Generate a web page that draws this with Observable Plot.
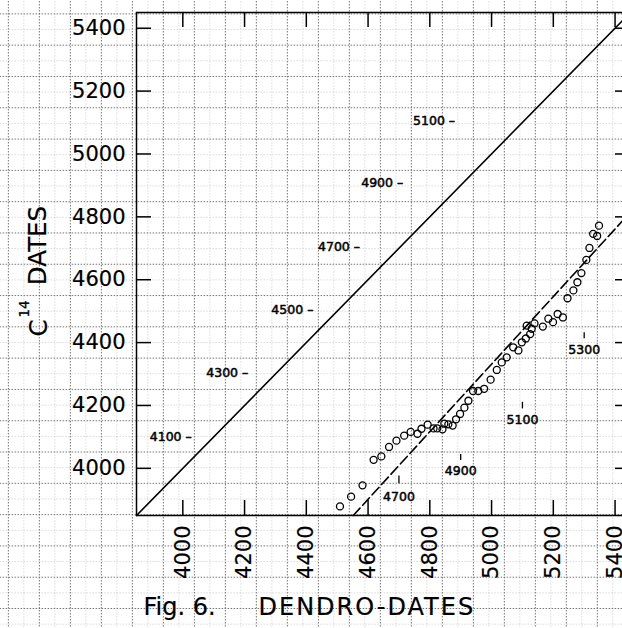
<!DOCTYPE html>
<html><head><meta charset="utf-8">
<script src="https://cdn.jsdelivr.net/npm/d3@7"></script>
<script src="https://cdn.jsdelivr.net/npm/@observablehq/plot@0.6"></script>
<style>html,body{margin:0;padding:0;background:#fff;overflow:hidden;width:622px;height:628px}</style>
</head><body><div id="chart"></div>
<script>
// Dendro-dates (x) and C14 dates (y) of the plotted samples
const dendroDates = [4509,4545,4582,4618,4643,4668,4692,4717,4738,4760,
  4773,4793,4812,4824,4841,4847,4860,4874,4885,4898,
  4912,4925,4940,4957,4976,4997,5017,5033,5049,5070,
  5087,5098,5111,5125,5114,5130,5139,5166,5184,5199,
  5214,5231,5246,5265,5278,5291,5307,5317,5329,5342,5348];
const c14Dates = [3879,3910,3946,4027,4038,4068,4088,4104,4116,4110,
  4126,4139,4127,4127,4124,4142,4140,4136,4156,4173,
  4193,4215,4246,4246,4253,4282,4313,4337,4353,4385,
  4375,4401,4413,4427,4454,4444,4461,4451,4476,4465,
  4491,4480,4541,4566,4592,4621,4663,4701,4746,4739,4772];

// axes
const axisTicks = [4000,4200,4400,4600,4800,5000,5200,5400];
const frameDomain = [3850,5450];

// 1:1 line and the dashed fitted line
const equalLineX = [3850,5450];
const equalLineY = [3850,5450];
const fitLineX = [4552,5450];
const fitLineY = [3850,4815];

// labels along the 1:1 line
const diagLabels = ["4100","4300","4500","4700","4900","5100"];
const diagLabelX = [4029,4212,4423,4574,4714,4882];
const diagLabelY = [4101,4302,4504,4705,4907,5106];

// dendro-date markers near the dashed line
const markLabels = [4700,4900,5100,5300];
const markTickLo = [3951,4025,4189,4412];
const markTickHi = [3976,4044,4210,4431];
const markLabelY = [3910,3993,4154,4375];

const W = 630, H = 628;
const mL = 136, mR = 0, mT = 12, mB = 113;
const innerW = W - mL - mR, innerH = H - mT - mB;

// graph-paper background (style)
const gx0 = 3435, gxStep = 100.4, gy0 = 5445.6, gyStep = 99.55;
const majorX = d3.range(21).map(k => gx0 + k * gxStep);
const minorX = d3.range(-1, 21).map(k => gx0 + (k + 0.5) * gxStep);
const majorY = d3.range(20).map(k => gy0 - k * gyStep);
const minorY = d3.range(-1, 20).map(k => gy0 - (k + 0.5) * gyStep);

const points = dendroDates.map((x, i) => ({x, y: c14Dates[i]}));
const equalLine = equalLineX.map((x, i) => [x, equalLineY[i]]);
const fitLine = fitLineX.map((x, i) => [x, fitLineY[i]]);

const font = "DejaVu Sans";

const chart = Plot.plot({
  width: W, height: H,
  marginLeft: mL, marginRight: mR, marginTop: mT, marginBottom: mB,
  style: {fontFamily: font, background: "white", maxWidth: "none", overflow: "hidden"},
  x: {domain: frameDomain, axis: null},
  y: {domain: frameDomain, axis: null},
  marks: [
    Plot.ruleX(minorX, {x: d => d, y1: 3400, y2: 5600, stroke: "#b0b0b0", strokeWidth: 0.7, strokeDasharray: "1,2"}),
    Plot.ruleY(minorY, {y: d => d, x1: 3350, x2: 5500, stroke: "#b0b0b0", strokeWidth: 0.7, strokeDasharray: "1,2"}),
    Plot.ruleX(majorX, {x: d => d, y1: 3400, y2: 5600, stroke: "#666", strokeWidth: 0.9, strokeDasharray: "1.5,1.5"}),
    Plot.ruleY(majorY, {y: d => d, x1: 3350, x2: 5500, stroke: "#666", strokeWidth: 0.9, strokeDasharray: "1.5,1.5"}),
    Plot.frame({stroke: "black", strokeWidth: 1.5}),
    // inward ticks on all four sides
    Plot.tickX(axisTicks, {x: d => d, insetTop: innerH - 15, stroke: "black", strokeWidth: 1.5}),
    Plot.tickX(axisTicks, {x: d => d, insetBottom: innerH - 15, stroke: "black", strokeWidth: 1.5}),
    Plot.tickY(axisTicks, {y: d => d, insetRight: innerW - 15, stroke: "black", strokeWidth: 1.5}),
    Plot.tickY(axisTicks, {y: d => d, insetLeft: innerW - 15, stroke: "black", strokeWidth: 1.5}),
    // tick labels
    Plot.text(axisTicks, {y: d => d, text: d => String(d), frameAnchor: "left", textAnchor: "end", lineAnchor: "middle", dx: -11, fontSize: 21, stroke: "black", strokeWidth: 0.2, fill: "black"}),
    Plot.text(axisTicks, {x: d => d, text: d => String(d), frameAnchor: "bottom", rotate: -90, textAnchor: "end", lineAnchor: "middle", dy: 10, fontSize: 21, stroke: "black", strokeWidth: 0.2, fill: "black"}),
    // lines
    Plot.line(equalLine, {stroke: "black", strokeWidth: 1.6}),
    Plot.line(fitLine, {stroke: "black", strokeWidth: 1.6, strokeDasharray: "10,4"}),
    // data
    Plot.dot(points, {x: "x", y: "y", r: 3.5, stroke: "black", strokeWidth: 1.3, fill: "none"}),
    // annotations
    Plot.text(diagLabels, {x: (d, i) => diagLabelX[i], y: (d, i) => diagLabelY[i], text: d => d + " –", textAnchor: "end", lineAnchor: "middle", fontSize: 12.5, stroke: "black", strokeWidth: 0.5, fill: "black"}),
    Plot.ruleX(markLabels, {x: d => d, y1: (d, i) => markTickLo[i], y2: (d, i) => markTickHi[i], stroke: "black", strokeWidth: 1.3}),
    Plot.text(markLabels, {x: d => d, y: (d, i) => markLabelY[i], text: d => String(d), lineAnchor: "middle", fontSize: 12.5, stroke: "black", strokeWidth: 0.5, fill: "black"}),
    // axis titles
    Plot.text(["DATES"], {frameAnchor: "left", rotate: -90, textAnchor: "middle", lineAnchor: "middle", dx: -98, dy: -18.5, fontSize: 24.5, stroke: "black", strokeWidth: 0.2, fill: "black"}),
    Plot.text(["C"], {frameAnchor: "left", rotate: -90, textAnchor: "middle", lineAnchor: "middle", dx: -97.5, dy: 64, fontSize: 24.5, stroke: "black", strokeWidth: 0.2, fill: "black"}),
    Plot.text(["14"], {frameAnchor: "left", rotate: -90, textAnchor: "middle", lineAnchor: "middle", dx: -112, dy: 45, fontSize: 13.5, stroke: "black", strokeWidth: 0.3, fill: "black"}),
    Plot.text(["Fig. 6."], {frameAnchor: "bottom-left", textAnchor: "start", lineAnchor: "bottom", dx: 7, dy: 99, fontSize: 24, stroke: "black", strokeWidth: 0.2, fill: "black"}),
    Plot.text(["DENDRO-DATES"], {frameAnchor: "bottom-left", textAnchor: "start", lineAnchor: "bottom", dx: 122, dy: 99, fontSize: 24, stroke: "black", strokeWidth: 0.2, fill: "black"})
  ]
});
d3.select(chart).selectAll("text").filter(function() { return this.textContent === "DENDRO-DATES"; })
  .style("letter-spacing", "2px");
document.getElementById("chart").appendChild(chart);
</script>
</body></html>
